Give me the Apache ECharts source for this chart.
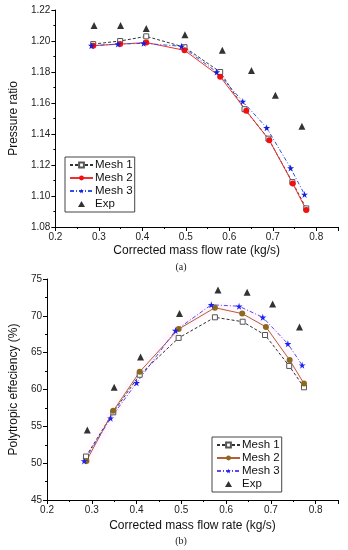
<!DOCTYPE html>
<html>
<head>
<meta charset="utf-8">
<script src="https://cdn.jsdelivr.net/npm/echarts@6/dist/echarts.min.js"></script>
<style>html,body{margin:0;padding:0;background:#fff}#c{width:348px;height:550px}</style>
</head>
<body>
<div id="c"></div>
<script>
// ---- data: chart (a) pressure ratio ----
const aMesh1 = [[0.287,1.198],[0.349,1.200],[0.409,1.203],[0.497,1.196],[0.579,1.180],[0.635,1.156],[0.690,1.137],[0.745,1.109],[0.777,1.092]];
const aMesh2 = [[0.287,1.197],[0.349,1.198],[0.409,1.199],[0.497,1.194],[0.579,1.177],[0.639,1.155],[0.692,1.136],[0.746,1.108],[0.777,1.091]];
const aMesh3 = [[0.283,1.197],[0.344,1.198],[0.403,1.1985],[0.490,1.1966],[0.571,1.180],[0.631,1.161],[0.686,1.144],[0.741,1.118],[0.773,1.101]];
const aExp   = [[0.289,1.210],[0.350,1.210],[0.409,1.208],[0.498,1.204],[0.584,1.194],[0.651,1.181],[0.706,1.165],[0.767,1.145]];
// ---- data: chart (b) polytropic efficiency ----
const bMesh1 = [[0.287,50.9],[0.348,56.9],[0.407,62.0],[0.494,67.0],[0.575,69.8],[0.637,69.2],[0.687,67.4],[0.741,63.2],[0.774,60.3]];
const bMesh2 = [[0.288,50.3],[0.348,57.1],[0.407,62.4],[0.494,68.2],[0.575,71.1],[0.636,70.3],[0.689,68.5],[0.742,64.0],[0.774,60.8]];
const bMesh3 = [[0.283,50.3],[0.342,56.1],[0.400,60.9],[0.487,68.0],[0.567,71.5],[0.629,71.3],[0.682,69.8],[0.738,66.2],[0.770,63.3]];
const bExp   = [[0.290,54.5],[0.350,60.3],[0.409,64.4],[0.496,70.3],[0.582,73.5],[0.647,73.2],[0.704,71.6],[0.764,68.5]];
const seriesNames = ['Mesh 1','Mesh 2','Mesh 3','Exp'];
const xName = 'Corrected mass flow rate (kg/s)';
const yNameA = 'Pressure ratio';
const yNameB = 'Polytropic effeciency (%)';

const FONT = 'Liberation Sans, Arial, sans-serif';
const axisLine = {show:true, lineStyle:{color:'#000', width:1}};
function xAxis(gi){
  return {type:'value', gridIndex:gi, min:0.2, max:0.85, interval:0.1,
    axisLine, axisTick:{show:true, length:4, lineStyle:{color:'#000'}},
    minorTick:{show:true, splitNumber:2, length:2, lineStyle:{color:'#000'}},
    splitLine:{show:false},
    axisLabel:{color:'#222', fontSize:10, fontFamily:FONT, margin:5, showMaxLabel:false,
      formatter:v=>v.toFixed(1)},
    name:xName, nameLocation:'middle', nameGap:gi===0?18:20,
    nameTextStyle:{color:'#111', fontSize:12, fontFamily:FONT}};
}
function yAxis(gi, min, max, interval, dec, name, gap){
  return {type:'value', gridIndex:gi, min, max, interval,
    axisLine, axisTick:{show:true, length:4, lineStyle:{color:'#000'}},
    minorTick:{show:true, splitNumber:2, length:2, lineStyle:{color:'#000'}},
    splitLine:{show:false},
    axisLabel:{color:'#222', fontSize:10, fontFamily:FONT, margin:5, formatter:v=>v.toFixed(dec)},
    name, nameLocation:'middle', nameGap:gap, nameRotate:90,
    nameTextStyle:{color:'#111', fontSize:12, fontFamily:FONT}};
}
const glow = {shadowColor:'rgba(255,80,190,0.35)', shadowBlur:6};
const starPath = 'path://M50,0 L61,35 L98,35 L68,57 L79,91 L50,70 L21,91 L32,57 L2,35 L39,35 Z';
const triIcon = 'path://M0,0 M23,6 M11.5,0 L15,6 L8,6 Z';
function mk(gi, tag, name, data, opt){
  return {name: tag+name, type:'line', xAxisIndex:gi, yAxisIndex:gi, data, z:opt.z||2,
    symbol:opt.symbol, symbolSize:opt.size, showSymbol:true,
    lineStyle:Object.assign({color:opt.line, width:1, type:opt.type||'solid'}, opt.glow?glow:{}),
    itemStyle:{color:opt.fill, borderColor:opt.border||opt.fill, borderWidth:opt.bw||0},
    emphasis:{disabled:true}, animation:false};
}
function expS(gi, tag, data){
  return {name: tag+'Exp', type:'scatter', xAxisIndex:gi, yAxisIndex:gi, data, symbol:'triangle',
    symbolSize:7, itemStyle:{color:'#000'}, emphasis:{disabled:true}, animation:false, z:3};
}
const m1 = {symbol:'rect', size:5, line:'#333', type:[3,2], fill:'#fff', border:'#555', bw:1};
function legendData(tag){
  return seriesNames.map(n => n==='Exp' ? {name:tag+n, icon:triIcon} : {name:tag+n});
}
function legend(tag, left, top){
  return {data:legendData(tag), formatter:n=>n.slice(2), orient:'vertical', left, top,
    itemWidth:23, itemHeight:6, itemGap:1, padding:[2,2,2,4], borderColor:'#444', borderWidth:1,
    textStyle:{fontSize:11.5, fontFamily:FONT, color:'#111', padding:[0,0,0,-3]}};
}

const option = {
  backgroundColor:'#fff',
  animation:false,
  grid:[{left:44, right:10, top:10, height:217},{left:39, right:10, top:279, height:221}],
  xAxis:[xAxis(0), xAxis(1)],
  yAxis:[yAxis(0,1.08,1.22,0.02,2,yNameA,28), yAxis(1,45,75,5,0,yNameB,24)],
  legend:[legend('a:',65,157), legend('b:',212,437)],
  title:[
    {text:'(a)', left:176, top:257, textAlign:'center', textStyle:{fontSize:10, fontWeight:'normal', fontFamily:'Liberation Serif, serif', color:'#222'}},
    {text:'(b)', left:176, top:531, textAlign:'center', textStyle:{fontSize:10, fontWeight:'normal', fontFamily:'Liberation Serif, serif', color:'#222'}}
  ],
  series:[
    mk(0,'a:','Mesh 1',aMesh1,m1),
    mk(0,'a:','Mesh 2',aMesh2,{symbol:'circle', size:6, line:'#f03030', fill:'#f01010'}),
    mk(0,'a:','Mesh 3',aMesh3,{symbol:starPath, size:7, line:'#3050e0', type:[4,2,1,2], fill:'#1020e0'}),
    expS(0,'a:',aExp),
    mk(1,'b:','Mesh 1',bMesh1,m1),
    mk(1,'b:','Mesh 2',bMesh2,{symbol:'circle', size:6, line:'#b0603a', fill:'#8a6a1e', glow:true}),
    mk(1,'b:','Mesh 3',bMesh3,{symbol:starPath, size:7, line:'#5a4af0', type:[4,2,1,2], fill:'#1a20f0', glow:true}),
    expS(1,'b:',bExp)
  ]
};
const chart = echarts.init(document.getElementById('c'), null, {renderer:'canvas'});
chart.setOption(option);
</script>
</body>
</html>
